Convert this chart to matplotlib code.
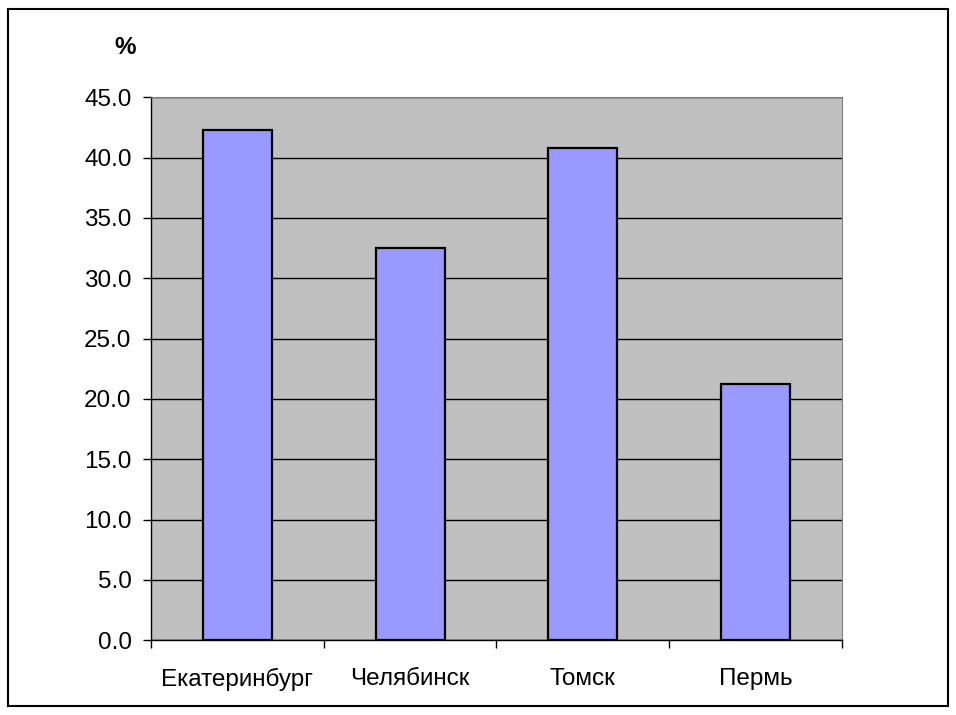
import numpy as np
import matplotlib.pyplot as plt
from matplotlib.patches import Rectangle

# data
cities = ["Екатеринбург", "Челябинск", "Томск", "Пермь"]
values = [42.3, 32.5, 40.8, 21.2]
y_ticks = [0, 5, 10, 15, 20, 25, 30, 35, 40, 45]

plt.rcParams['font.family'] = ['Liberation Sans', 'DejaVu Sans']

fig = plt.figure(figsize=(9.56, 7.15), dpi=100)
fig.patches.append(Rectangle((8 / 956, 9 / 715), 940 / 956, 697 / 715,
                             transform=fig.transFigure, fill=False,
                             edgecolor='black', linewidth=1.5))

ax = fig.add_axes([151 / 956, 1 - 640.3 / 715, 691 / 956, 543 / 715])
ax.set_facecolor('#C0C0C0')

x = np.arange(len(cities))
ax.bar(x, values, width=0.4, color='#9999FF', edgecolor='black',
       linewidth=1.6, zorder=3)

ax.set_xlim(-0.5, len(cities) - 0.5)
ax.set_ylim(0, 45)
ax.set_yticks(y_ticks)
ax.set_yticklabels([f"{v:.1f}" for v in y_ticks], fontsize=17.5)
ax.yaxis.grid(True, color='black', linewidth=1, zorder=1)
ax.set_axisbelow(True)

# category ticks between groups, labels centred
ax.set_xticks(np.arange(-0.5, len(cities), 1.0))
ax.set_xticklabels([])
ax.set_xticks(x, minor=True)
ax.set_xticklabels(cities, minor=True, fontsize=17.5)
ax.tick_params(axis='x', which='minor', length=0, pad=20)
ax.tick_params(axis='x', which='major', length=6, width=1)
ax.tick_params(axis='y', length=6, width=1, pad=8)

for side in ['top', 'right']:
    ax.spines[side].set_color('#808080')
for side in ['left', 'bottom']:
    ax.spines[side].set_color('black')
    ax.spines[side].set_linewidth(1)

fig.text(125 / 956, 1 - 48 / 715, "%", fontsize=17.5, fontweight='bold',
         ha='center', va='center')

fig.savefig("out.png", dpi=100)
